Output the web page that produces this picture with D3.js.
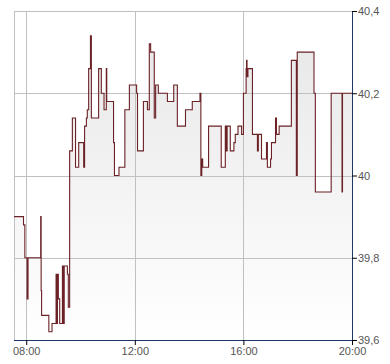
<!DOCTYPE html>
<html>
<head>
<meta charset="utf-8">
<script src="https://cdn.jsdelivr.net/npm/d3@7"></script>
<style>
  body { margin: 0; background: #fff; }
  svg { display: block; font-family: "Liberation Sans", Arial, sans-serif; }
</style>
</head>
<body>
<div id="chart"></div>
<script>
'use strict';
// Kurs intraday, Stufenlinie
const times = ['07:33', '07:54', '07:57', '08:02', '08:04', '08:32', '08:33', '08:34', '08:50', '08:57',
  '09:06', '09:08', '09:09', '09:11', '09:14', '09:20', '09:22', '09:24', '09:31', '09:33',
  '09:36', '09:42', '09:49', '09:56', '10:07', '10:09', '10:13', '10:15', '10:18', '10:22',
  '10:24', '10:40', '10:46', '10:52', '10:57', '10:58', '11:13', '11:15', '11:25', '11:38',
  '11:48', '12:04', '12:06', '12:19', '12:28', '12:32', '12:35', '12:43', '12:46', '12:52',
  '13:12', '13:26', '13:34', '13:52', '14:07', '14:24', '14:26', '14:28', '14:30', '14:43',
  '15:11', '15:20', '15:22', '15:24', '15:31', '15:39', '15:42', '15:48', '15:56', '16:00',
  '16:06', '16:07', '16:08', '16:10', '16:20', '16:31', '16:33', '16:40', '16:51', '16:53',
  '17:00', '17:02', '17:11', '17:13', '17:19', '17:46', '17:57', '17:59', '18:36', '18:39',
  '19:14', '19:38', '19:39', '20:00'];
const prices = [39.90, 39.88, 39.80, 39.70, 39.80, 39.90, 39.72, 39.66, 39.62, 39.64,
  39.76, 39.64, 39.76, 39.70, 39.64, 39.78, 39.64, 39.78, 39.76, 39.68,
  40.06, 40.14, 40.02, 40.08, 40.02, 40.12, 40.14, 40.16, 40.26, 40.34,
  40.14, 40.26, 40.20, 40.16, 40.26, 40.18, 40.08, 40.00, 40.02, 40.16,
  40.22, 40.20, 40.06, 40.18, 40.16, 40.32, 40.30, 40.14, 40.22, 40.20,
  40.18, 40.22, 40.12, 40.16, 40.18, 40.20, 40.00, 40.04, 40.02, 40.12,
  40.02, 40.12, 40.06, 40.12, 40.06, 40.08, 40.10, 40.12, 40.10, 40.20,
  40.26, 40.28, 40.24, 40.26, 40.10, 40.06, 40.10, 40.04, 40.08, 40.02,
  40.04, 40.08, 40.14, 40.10, 40.12, 40.28, 40.00, 40.30, 40.20, 39.96,
  40.20, 39.96, 40.20, 40.20];
const xTicks = ['08:00', '12:00', '16:00', '20:00'];
const yTicks = [39.6, 39.8, 40, 40.2, 40.4];

const w = 390, h = 364;
const mLeft = 14, mRight = 352, mTop = 11, mBottom = 340;

const parse = d3.timeParse('%H:%M');
const data = times.map(function (t, i) { return { t: parse(t), v: prices[i] }; });

const x = d3.scaleTime()
  .domain([parse('07:33'), parse('20:00')])
  .range([mLeft, mRight]);
const y = d3.scaleLinear()
  .domain([39.6, 40.4])
  .range([mBottom, mTop]);

const svg = d3.select('#chart').append('svg')
  .attr('width', w)
  .attr('height', h);

const grad = svg.append('defs').append('linearGradient')
  .attr('id', 'fillGrad')
  .attr('gradientUnits', 'userSpaceOnUse')
  .attr('x1', 0).attr('x2', 0)
  .attr('y1', mTop).attr('y2', mBottom);
grad.append('stop').attr('offset', 0).attr('stop-color', '#e6e6e6');
grad.append('stop').attr('offset', 1).attr('stop-color', '#ffffff');

// Flaeche unter der Linie
const area = d3.area()
  .curve(d3.curveStepAfter)
  .x(function (d) { return x(d.t); })
  .y0(mBottom)
  .y1(function (d) { return y(d.v); });

svg.append('path')
  .datum(data)
  .attr('d', area)
  .attr('fill', 'url(#fillGrad)');

// Gitter
svg.append('g').selectAll('line')
  .data(yTicks.slice(1))
  .enter().append('line')
  .attr('x1', mLeft).attr('x2', mRight)
  .attr('y1', function (d) { return Math.round(y(d)) + 0.5; })
  .attr('y2', function (d) { return Math.round(y(d)) + 0.5; })
  .attr('stroke', '#c0c0c0');

svg.append('g').selectAll('line')
  .data(xTicks.slice(0, 3))
  .enter().append('line')
  .attr('x1', function (d) { return Math.round(x(parse(d))) + 0.5; })
  .attr('x2', function (d) { return Math.round(x(parse(d))) + 0.5; })
  .attr('y1', mTop).attr('y2', mBottom)
  .attr('stroke', '#c0c0c0');

svg.append('line')
  .attr('x1', mLeft + 0.5).attr('x2', mLeft + 0.5)
  .attr('y1', mTop).attr('y2', mBottom)
  .attr('stroke', '#c0c0c0');

// Kurslinie
const line = d3.line()
  .curve(d3.curveStepAfter)
  .x(function (d) { return x(d.t); })
  .y(function (d) { return y(d.v); });

svg.append('path')
  .datum(data)
  .attr('d', line)
  .attr('fill', 'none')
  .attr('stroke', '#6b2126')
  .attr('stroke-width', 1.1);

// Achsen
const yAxis = d3.axisRight(y)
  .tickValues(yTicks)
  .tickSize(5)
  .tickFormat(function (d) { return d3.format('.1f')(d).replace('.', ',').replace(',0', ''); });

const gy = svg.append('g')
  .attr('transform', 'translate(' + mRight + ',0)')
  .call(yAxis);
gy.select('.domain').attr('stroke', '#1f3864').attr('d', 'M0.5,' + mTop + 'V' + mBottom);
gy.selectAll('.tick line').attr('stroke', '#000');
gy.selectAll('.tick text')
  .attr('x', 6)
  .attr('dy', '0.36em')
  .attr('fill', '#555')
  .style('font-size', '11px');

const xAxis = d3.axisBottom(x)
  .tickValues(xTicks.map(parse))
  .tickSize(5)
  .tickFormat(d3.timeFormat('%H:%M'));

const gx = svg.append('g')
  .attr('transform', 'translate(0,' + mBottom + ')')
  .call(xAxis);
gx.select('.domain').attr('stroke', '#1f3864').attr('d', 'M' + mLeft + ',0.5H' + (mRight + 1));
gx.selectAll('.tick line').attr('stroke', '#000');
gx.selectAll('.tick text')
  .attr('y', 7)
  .attr('fill', '#555')
  .style('font-size', '11px');

// obere Rahmenlinie
svg.append('line')
  .attr('x1', mLeft).attr('x2', mRight)
  .attr('y1', mTop + 0.5).attr('y2', mTop + 0.5)
  .attr('stroke', '#c0c0c0');
</script>
</body>
</html>
